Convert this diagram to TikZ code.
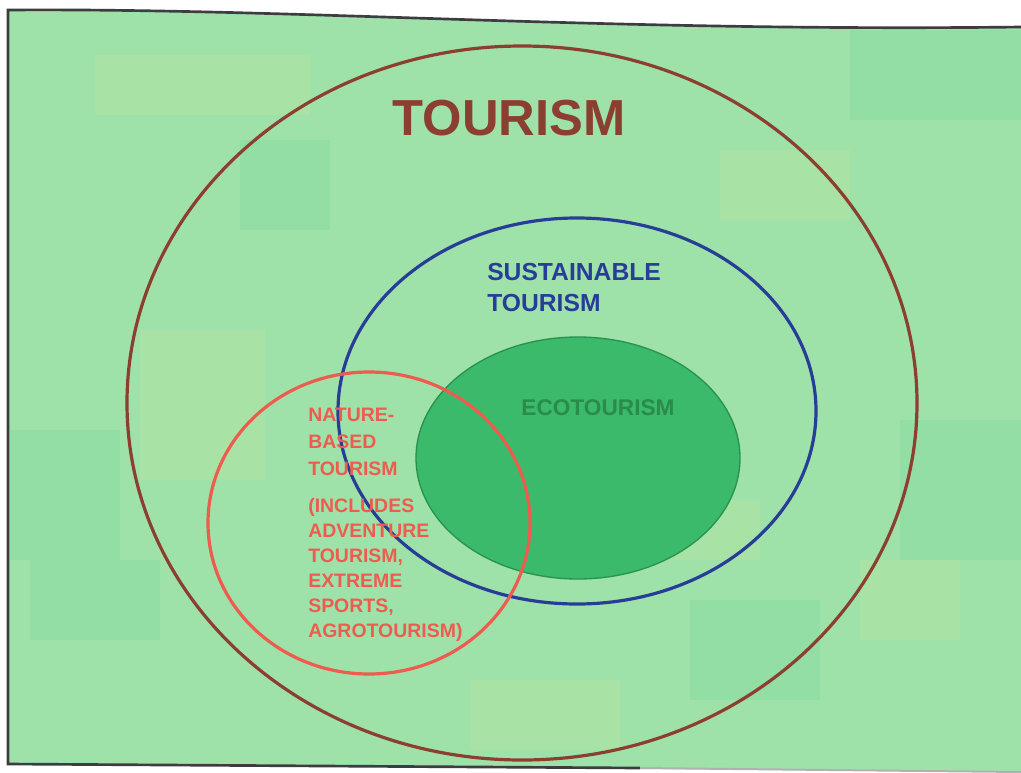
\documentclass[tikz,border=0pt]{standalone}
\usepackage{fontspec}
\setmainfont{Liberation Sans}
\usepackage{tikz}

\definecolor{slidegreen}{RGB}{158,226,170}
\definecolor{patchyellow}{RGB}{205,232,150}
\definecolor{patchteal}{RGB}{105,208,150}
\definecolor{frameedge}{RGB}{60,60,65}
\definecolor{tourbrown}{RGB}{140,62,48}
\definecolor{sustblue}{RGB}{40,62,150}
\definecolor{naturered}{RGB}{238,92,80}
\definecolor{ecofill}{RGB}{58,186,106}
\definecolor{ecoedge}{RGB}{40,146,80}
\definecolor{ecotext}{RGB}{42,140,72}

\tikzset{
  patch/.style={opacity=0.22},
  ring/.style={line width=2.4pt},
  labeltxt/.style={inner sep=0pt, font=\bfseries}
}

\begin{document}
\begin{tikzpicture}[x=0.75pt,y=0.75pt,yscale=-1,xscale=1]
\useasboundingbox (0,0) rectangle (1021,772);
\fill[white] (0,0) rectangle (1021,772);

%Shape: Slide background
\fill[slidegreen] (8,10) .. controls (300,8) and (600,32) .. (1021,27) -- (1021,772) -- (8,764) -- cycle ;
%Shape: Background patches
\fill[patch,patchyellow] (95,55) rectangle (310,115);
\fill[patch,patchyellow] (140,330) rectangle (265,480);
\fill[patch,patchteal] (10,430) rectangle (120,560);
\fill[patch,patchteal] (30,560) rectangle (160,640);
\fill[patch,patchyellow] (470,680) rectangle (620,750);
\fill[patch,patchteal] (690,600) rectangle (820,700);
\fill[patch,patchteal] (850,30) rectangle (1021,120);
\fill[patch,patchyellow] (720,150) rectangle (850,220);
\fill[patch,patchteal] (900,420) rectangle (1021,560);
\fill[patch,patchyellow] (860,560) rectangle (960,640);
\fill[patch,patchteal] (240,140) rectangle (330,230);
\fill[patch,patchyellow] (640,500) rectangle (760,560);
%Shape: Slide edges
\draw[frameedge, line width=2pt] (1021,27) .. controls (600,32) and (300,8) .. (8,10) -- (8,764) -- (640,768) ;
\draw[frameedge!40, line width=1.5pt] (640,768) -- (1021,772) ;

%Shape: Ellipse (ecotourism)
\draw[ecoedge, fill=ecofill, line width=1pt] (578,458) ellipse (162 and 121) ;
%Shape: Ellipse (tourism)
\draw[ring, tourbrown] (522,403) ellipse (395 and 357) ;
%Shape: Ellipse (sustainable tourism)
\draw[ring, sustblue] (577,411) ellipse (239 and 193) ;
%Shape: Circle (nature-based tourism)
\draw[ring, naturered] (369,523) ellipse (161 and 151) ;

% Text labels
\node[labeltxt, tourbrown, font=\fontsize{38}{40}\selectfont\bfseries] (tourism) at (509,118) {TOURISM};
\node[labeltxt, sustblue, anchor=north west, align=left, font=\fontsize{18.5}{23}\selectfont\bfseries] (sust) at (487,263) {SUSTAINABLE\\TOURISM};
\node[labeltxt, ecotext, font=\fontsize{17}{20}\selectfont\bfseries] (eco) at (598,408) {ECOTOURISM};
\node[labeltxt, naturered, anchor=north west, align=left, font=\fontsize{14.6}{20}\selectfont\bfseries] (nature) at (308,408) {NATURE-\\BASED\\TOURISM};
\node[labeltxt, naturered, anchor=north west, align=left, font=\fontsize{14.6}{18.7}\selectfont\bfseries] (includes) at (308,498) {(INCLUDES\\ADVENTURE\\TOURISM,\\EXTREME\\SPORTS,\\AGROTOURISM)};
\end{tikzpicture}
\end{document}
